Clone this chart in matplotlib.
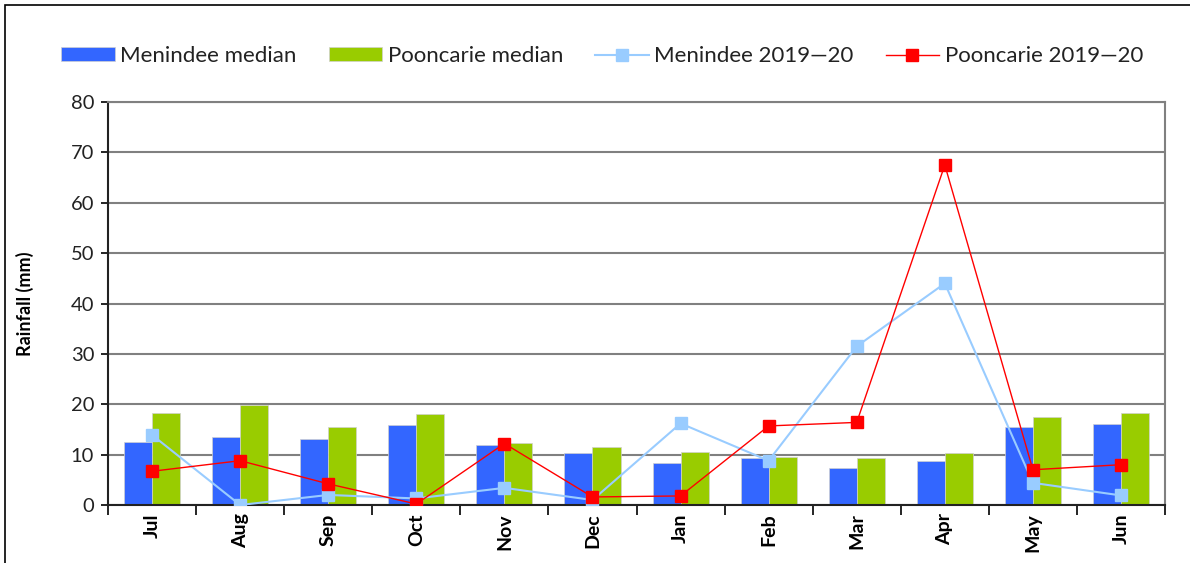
import numpy as np
import matplotlib.pyplot as plt
from matplotlib.patches import Rectangle

# monthly rainfall (mm), Jul 2019 - Jun 2020
months = ['Jul', 'Aug', 'Sep', 'Oct', 'Nov', 'Dec',
          'Jan', 'Feb', 'Mar', 'Apr', 'May', 'Jun']
menindee_median = [12.6, 13.6, 13.1, 15.9, 12.0, 10.3, 8.4, 9.3, 7.3, 8.8, 15.5, 16.0]
pooncarie_median = [18.2, 19.9, 15.4, 18.0, 12.4, 11.6, 10.6, 9.5, 9.3, 10.3, 17.5, 18.3]
menindee_2019 = [13.9, 0.0, 2.0, 1.3, 3.4, 1.0, 16.2, 8.8, 31.5, 44.0, 4.4, 1.9]
pooncarie_2019 = [6.7, 8.8, 4.2, 0.2, 12.2, 1.6, 1.8, 15.7, 16.4, 67.5, 7.0, 8.0]

plt.rcParams['font.family'] = ['Lato', 'DejaVu Sans']
plt.rcParams['text.color'] = '#222222'

fig = plt.figure(figsize=(11.9, 5.63), dpi=100)
ax = fig.add_axes([0.0908, 0.103, 0.979 - 0.0908, 0.8188 - 0.103])

x = np.arange(len(months))
w = 0.318
b1 = ax.bar(x - w / 2, menindee_median, w, color='#3366FF', edgecolor='#d0d0d0',
            linewidth=0.5, label='Menindee median', zorder=2)
b2 = ax.bar(x + w / 2, pooncarie_median, w, color='#99CC00', edgecolor='#d0d0d0',
            linewidth=0.5, label='Pooncarie median', zorder=2)
l1, = ax.plot(x, menindee_2019, color='#99CCFF', lw=1.5, marker='s', markersize=9,
              markeredgecolor='#99CCFF', label='Menindee 2019\u201420', zorder=3)
l2, = ax.plot(x, pooncarie_2019, color='#FF0000', lw=1.0, marker='s', markersize=9,
              markeredgecolor='#FF0000', label='Pooncarie 2019\u201420', zorder=4)

ax.set_xlim(-0.5, 11.5)
ax.set_ylim(0, 80)
ax.set_yticks(range(0, 81, 10))
ax.grid(axis='y', color='#808080', lw=1.5, zorder=0)

ax.set_xticks(x)
ax.set_xticklabels(months, rotation=90, fontweight='bold', fontsize=14)
ax.set_xticks(np.arange(-0.5, 12, 1), minor=True)
ax.tick_params(axis='x', which='major', length=0, pad=6)
ax.tick_params(axis='x', which='minor', length=7, width=1.2, direction='out')
ax.tick_params(axis='y', length=5, width=1.2, labelsize=14.5, pad=5,
               labelcolor='#222222')

for s in ['top', 'right']:
    ax.spines[s].set_color('#808080')
    ax.spines[s].set_linewidth(1.5)
for s in ['left', 'bottom']:
    ax.spines[s].set_color('#222222')
    ax.spines[s].set_linewidth(1.5)

ax.set_ylabel('Rainfall (mm)', fontsize=13, fontweight='bold')
ax.yaxis.set_label_coords(-0.0705, 0.5)

fig.legend([b1, b2, l1, l2],
           ['Menindee median', 'Pooncarie median',
            'Menindee 2019\u201420', 'Pooncarie 2019\u201420'],
           loc='center', bbox_to_anchor=(0.506, 0.9005), ncol=4, frameon=False,
           fontsize=16, handlelength=2.4, handleheight=0.6,
           handletextpad=0.25, columnspacing=1.45)

# outer chart border
fig.add_artist(Rectangle((5 / 1190, -0.1), 1.2, 1 - 5 / 563 + 0.1,
                         transform=fig.transFigure, fill=False,
                         edgecolor='black', lw=1.2))

fig.savefig('out.png', dpi=100)
